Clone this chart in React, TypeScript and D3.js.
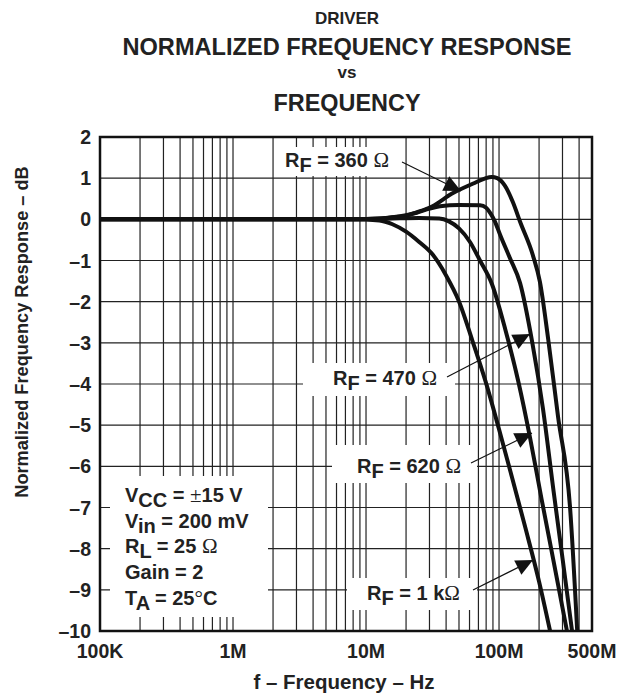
import React from "react";
import * as d3 from "d3";

const W = 621;
const H = 695;
const M = { left: 100, right: 592, top: 137, bottom: 631 };

const xDomain = [1e5, 5e8];
const yDomain = [-10, 2];
const xTickValues = [1e5, 1e6, 1e7, 1e8, 5e8];
const xTickLabels = ["100K", "1M", "10M", "100M", "500M"];
const yTickValues = [2, 1, 0, -1, -2, -3, -4, -5, -6, -7, -8, -9, -10];

// R_F = 360 ohm
const f360 = [1e5, 8e6, 12.6e6, 15.8e6, 20e6, 24e6, 31.6e6, 44e6, 64e6, 78e6, 88e6, 97e6, 110e6, 127e6, 144e6, 180e6, 203e6, 234e6, 278e6, 342e6, 387e6];
const db360 = [0, 0, 0.02, 0.05, 0.09, 0.17, 0.32, 0.62, 0.87, 0.99, 1.03, 1.0, 0.83, 0.42, -0.06, -0.88, -1.52, -2.9, -4.8, -7.0, -10];
// R_F = 470 ohm
const f470 = [1e5, 8e6, 12.6e6, 15.8e6, 20e6, 24e6, 30e6, 36e6, 50e6, 72e6, 80e6, 86e6, 93e6, 102e6, 120e6, 144e6, 178e6, 214e6, 257e6, 302e6, 354e6];
const db470 = [0, 0, 0.02, 0.05, 0.1, 0.16, 0.26, 0.32, 0.35, 0.34, 0.28, 0.15, -0.05, -0.38, -0.92, -1.55, -3.0, -4.6, -6.6, -8.3, -10];
// R_F = 620 ohm
const f620 = [1e5, 8e6, 15.8e6, 25.1e6, 35.5e6, 42e6, 50e6, 60.5e6, 71.9e6, 89.1e6, 112e6, 141e6, 171e6, 209e6, 257e6, 324e6];
const db620 = [0, 0, 0.02, 0.03, 0.02, -0.05, -0.22, -0.55, -1.0, -1.6, -2.7, -4.0, -5.3, -6.8, -8.3, -10];
// R_F = 1 kohm
const f1k = [1e5, 8e6, 12.6e6, 15.8e6, 20e6, 25.1e6, 31.6e6, 39.8e6, 50.1e6, 63.1e6, 79.4e6, 100e6, 126e6, 158e6, 200e6, 242e6];
const db1k = [0, 0, -0.03, -0.12, -0.3, -0.55, -0.85, -1.35, -2.0, -2.95, -3.95, -5.1, -6.3, -7.5, -8.8, -10];

const seriesF = [f360, f470, f620, f1k];
const seriesDb = [db360, db470, db620, db1k];

const titleLines = ["DRIVER", "NORMALIZED FREQUENCY RESPONSE", "vs", "FREQUENCY"];
const rfValues = ["360 ", "470 ", "620 ", "1 k"];
// [main, subscript, text, symbol, tail]
const conditions = [
  ["V", "CC", " = ", "\u00B1", "15 V"],
  ["V", "in", " = 200 mV", "", ""],
  ["R", "L", " = 25 ", "\u03A9", ""],
  ["Gain = 2", "", "", "", ""],
  ["T", "A", " = 25", "\u00B0", "C"],
];

const FONT = "'Liberation Sans', Arial, Helvetica, sans-serif";
const SYM = "'Liberation Serif', 'Times New Roman', serif";

export default function App() {
  const x = d3.scaleLog().domain(xDomain).range([M.left, M.right]);
  const y = d3.scaleLinear().domain(yDomain).range([M.bottom, M.top]);

  const vGrid: number[] = [];
  for (let d = 1e5; d <= 1e8; d *= 10) {
    for (let k = 1; k <= 9; k++) {
      const v = d * k;
      if (v > xDomain[0] && v < xDomain[1]) vGrid.push(v);
    }
  }

  const line = d3
    .line<[number, number]>()
    .x((p) => x(p[0]))
    .y((p) => y(p[1]))
    .curve(d3.curveMonotoneX);

  const boxes = [
    { x0: 278, y0: 147, x1: 400, y1: 176 },
    { x0: 303, y0: 363, x1: 455, y1: 396 },
    { x0: 332, y0: 445, x1: 477, y1: 483 },
    { x0: 347, y0: 578, x1: 477, y1: 610 },
    { x0: 110, y0: 476, x1: 268, y1: 617 },
  ];

  const labels = [
    { tx: 285, ty: 167, ax: 402, ay: 162, bx: 461, by: 191 },
    { tx: 333, ty: 385, ax: 447, ay: 377, bx: 530, by: 334 },
    { tx: 357, ty: 473, ax: 471, ay: 463, bx: 532, by: 433 },
    { tx: 367, ty: 600, ax: 473, ay: 590, bx: 533, by: 560 },
  ];

  const arrowHead = (ax: number, ay: number, bx: number, by: number) => {
    const ang = Math.atan2(by - ay, bx - ax);
    const L = 17;
    const hw = 8;
    const cx = bx - L * Math.cos(ang);
    const cy = by - L * Math.sin(ang);
    const px = -Math.sin(ang) * hw;
    const py = Math.cos(ang) * hw;
    return `M${bx},${by}L${cx + px},${cy + py}L${cx - px},${cy - py}Z`;
  };

  return (
    <svg width={W} height={H} style={{ position: "absolute", left: 0, top: 0, background: "#fff" }} fontFamily={FONT} fontWeight="bold">
      <rect x={0} y={0} width={W} height={H} fill="#fff" />
      {/* title */}
      <text x={347} y={24} textAnchor="middle" fontSize={17} fill="#222">{titleLines[0]}</text>
      <text x={347} y={55} textAnchor="middle" fontSize={24} fill="#222" textLength={449} lengthAdjust="spacingAndGlyphs">{titleLines[1]}</text>
      <text x={347} y={78} textAnchor="middle" fontSize={17} fill="#222">{titleLines[2]}</text>
      <text x={347} y={111} textAnchor="middle" fontSize={24} fill="#222" textLength={147} lengthAdjust="spacingAndGlyphs">{titleLines[3]}</text>

      {/* grid */}
      <g stroke="#222" strokeWidth={1.2}>
        {vGrid.map((v, i) => (
          <line key={"v" + i} x1={x(v)} x2={x(v)} y1={M.top} y2={M.bottom} />
        ))}
        {yTickValues.map((v, i) => (
          <line key={"h" + i} x1={M.left} x2={M.right} y1={y(v)} y2={y(v)} />
        ))}
      </g>

      {/* label boxes */}
      {boxes.map((b, i) => (
        <rect key={"b" + i} x={b.x0} y={b.y0} width={b.x1 - b.x0} height={b.y1 - b.y0} fill="#fff" />
      ))}

      {/* curves */}
      <g fill="none" stroke="#111" strokeWidth={4} strokeLinejoin="round">
        {seriesF.map((fs, i) => (
          <path key={"c" + i} d={line(fs.map((f, j) => [f, seriesDb[i][j]] as [number, number])) || ""} />
        ))}
      </g>

      {/* frame */}
      <rect x={M.left} y={M.top} width={M.right - M.left} height={M.bottom - M.top} fill="none" stroke="#111" strokeWidth={2.5} />

      {/* y ticks */}
      {yTickValues.map((v) => (
        <text key={"yt" + v} x={91} y={y(v) + 7} textAnchor="end" fontSize={19.5} fill="#222">
          {v < 0 ? "\u2013" + Math.abs(v) : String(v)}
        </text>
      ))}
      {/* x ticks */}
      {xTickValues.map((v, i) => (
        <text key={"xt" + i} x={x(v)} y={658} textAnchor="middle" fontSize={19.5} fill="#222">
          {xTickLabels[i]}
        </text>
      ))}

      {/* axis titles */}
      <text x={344} y={689} textAnchor="middle" fontSize={20.5} fill="#222">f – Frequency – Hz</text>
      <text transform={`translate(28,332) rotate(-90)`} textAnchor="middle" fontSize={18.2} fill="#222">Normalized Frequency Response – dB</text>

      {/* RF labels */}
      {labels.map((l, i) => (
        <g key={"l" + i}>
          <text x={l.tx} y={l.ty} fontSize={20} fill="#222">
            R<tspan dy={5}>F</tspan>
            <tspan dy={-5}>{" = " + rfValues[i]}</tspan>
            <tspan fontWeight="normal" fontFamily={SYM} fontSize={21}>{"\u03A9"}</tspan>
          </text>
          <line x1={l.ax} y1={l.ay} x2={l.bx} y2={l.by} stroke="#111" strokeWidth={1.2} />
          <path d={arrowHead(l.ax, l.ay, l.bx, l.by)} fill="#111" />
        </g>
      ))}

      {/* conditions */}
      {conditions.map((c, i) => (
        <text key={"cd" + i} x={125} y={502 + i * 25.7} fontSize={20} fill="#222">
          {c[0]}
          {c[1] ? <tspan dy={5}>{c[1]}</tspan> : null}
          {c[1] ? <tspan dy={-5}>{c[2]}</tspan> : null}
          {c[3] ? <tspan fontWeight="normal" fontFamily={SYM} fontSize={21}>{c[3]}</tspan> : null}
          {c[4] ? <tspan>{c[4]}</tspan> : null}
        </text>
      ))}
    </svg>
  );
}
